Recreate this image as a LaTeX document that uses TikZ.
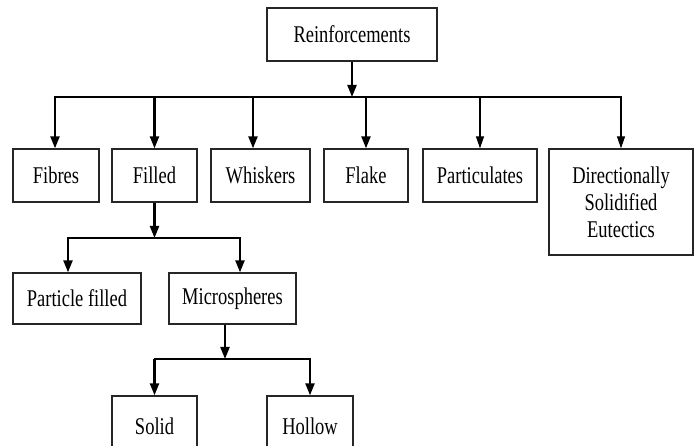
\documentclass[tikz,border=0pt]{standalone}
\usepackage{fontspec}
\setmainfont[FakeStretch=0.77]{Liberation Serif}
\usetikzlibrary{arrows.meta}
\begin{document}
\begin{tikzpicture}[x=1pt,y=-1pt,
  box/.style={draw=black!85,line width=1.3pt,inner sep=0pt,align=center,
    font=\fontsize{24}{27}\selectfont},
  arr/.style={line width=2.2pt,-{Triangle[length=12pt,width=9pt]}},
  thinarr/.style={line width=1.2pt,-{Triangle[length=12pt,width=8pt]}},
  bar/.style={line width=2pt,line cap=rect}]
\useasboundingbox (0,0) rectangle (694,446);
\clip (0,0) rectangle (694,446);
% level 0
\node[box,minimum width=170pt,minimum height=53pt] (reinf) at (352,34.5) {Reinforcements};
% level 1
\node[box,minimum width=86pt,minimum height=53pt] (fibres) at (56,175.5) {Fibres};
\node[box,minimum width=85pt,minimum height=53pt] (filled) at (154.5,175.5) {Filled};
\node[box,minimum width=99pt,minimum height=53pt] (whiskers) at (260.5,175.5) {Whiskers};
\node[box,minimum width=84pt,minimum height=53pt] (flake) at (366,175.5) {Flake};
\node[box,minimum width=114pt,minimum height=53pt] (partic) at (480,175.5) {Particulates};
\node[box,minimum width=144pt,minimum height=106pt] (direct) at (621,202) {Directionally\\Solidified\\Eutectics};
% level 2
\node[box,minimum width=128pt,minimum height=51pt] (pfilled) at (77,298.5) {Particle filled};
\node[box,minimum width=127pt,minimum height=51pt] (micro) at (232.5,298.5) {Microspheres};
% level 3
\node[box,minimum width=85pt,minimum height=60pt] (solid) at (154.5,426) {Solid};
\node[box,minimum width=86pt,minimum height=60pt] (hollow) at (310,426) {Hollow};
% bar 1
\coordinate (b1) at (352,97);
\coordinate (b1l) at (55,97);
\coordinate (b1w) at (253,97);
\coordinate (b1r) at (621,97);
\draw[arr] (reinf.south) -- (b1);
\draw[bar] (b1l) -- (b1r);
\draw[arr] (b1l) -- (b1l |- fibres.north);
\draw[arr] (filled.north |- b1) -- (filled.north);
\draw[arr] (b1w) -- (b1w |- whiskers.north);
\draw[arr] (flake.north |- b1) -- (flake.north);
\draw[thinarr] (partic.north |- b1) -- (partic.north);
\draw[thinarr] (b1r) -- (b1r |- direct.north);
% bar 2
\coordinate (b2) at (154.5,238);
\coordinate (b2l) at (68,238);
\coordinate (b2r) at (240,238);
\draw[arr] (filled.south) -- (b2);
\draw[bar] (b2l) -- (b2r);
\draw[arr] (b2l) -- (b2l |- pfilled.north);
\draw[arr] (b2r) -- (b2r |- micro.north);
% bar 3
\coordinate (b3) at (225,359);
\coordinate (b3l) at (154.5,359);
\coordinate (b3r) at (310,359);
\draw[arr] (micro.south -| b3) -- (b3);
\draw[bar] (b3l) -- (b3r);
\draw[arr] (b3l) -- (solid.north);
\draw[arr] (b3r) -- (hollow.north);
\end{tikzpicture}
\end{document}
